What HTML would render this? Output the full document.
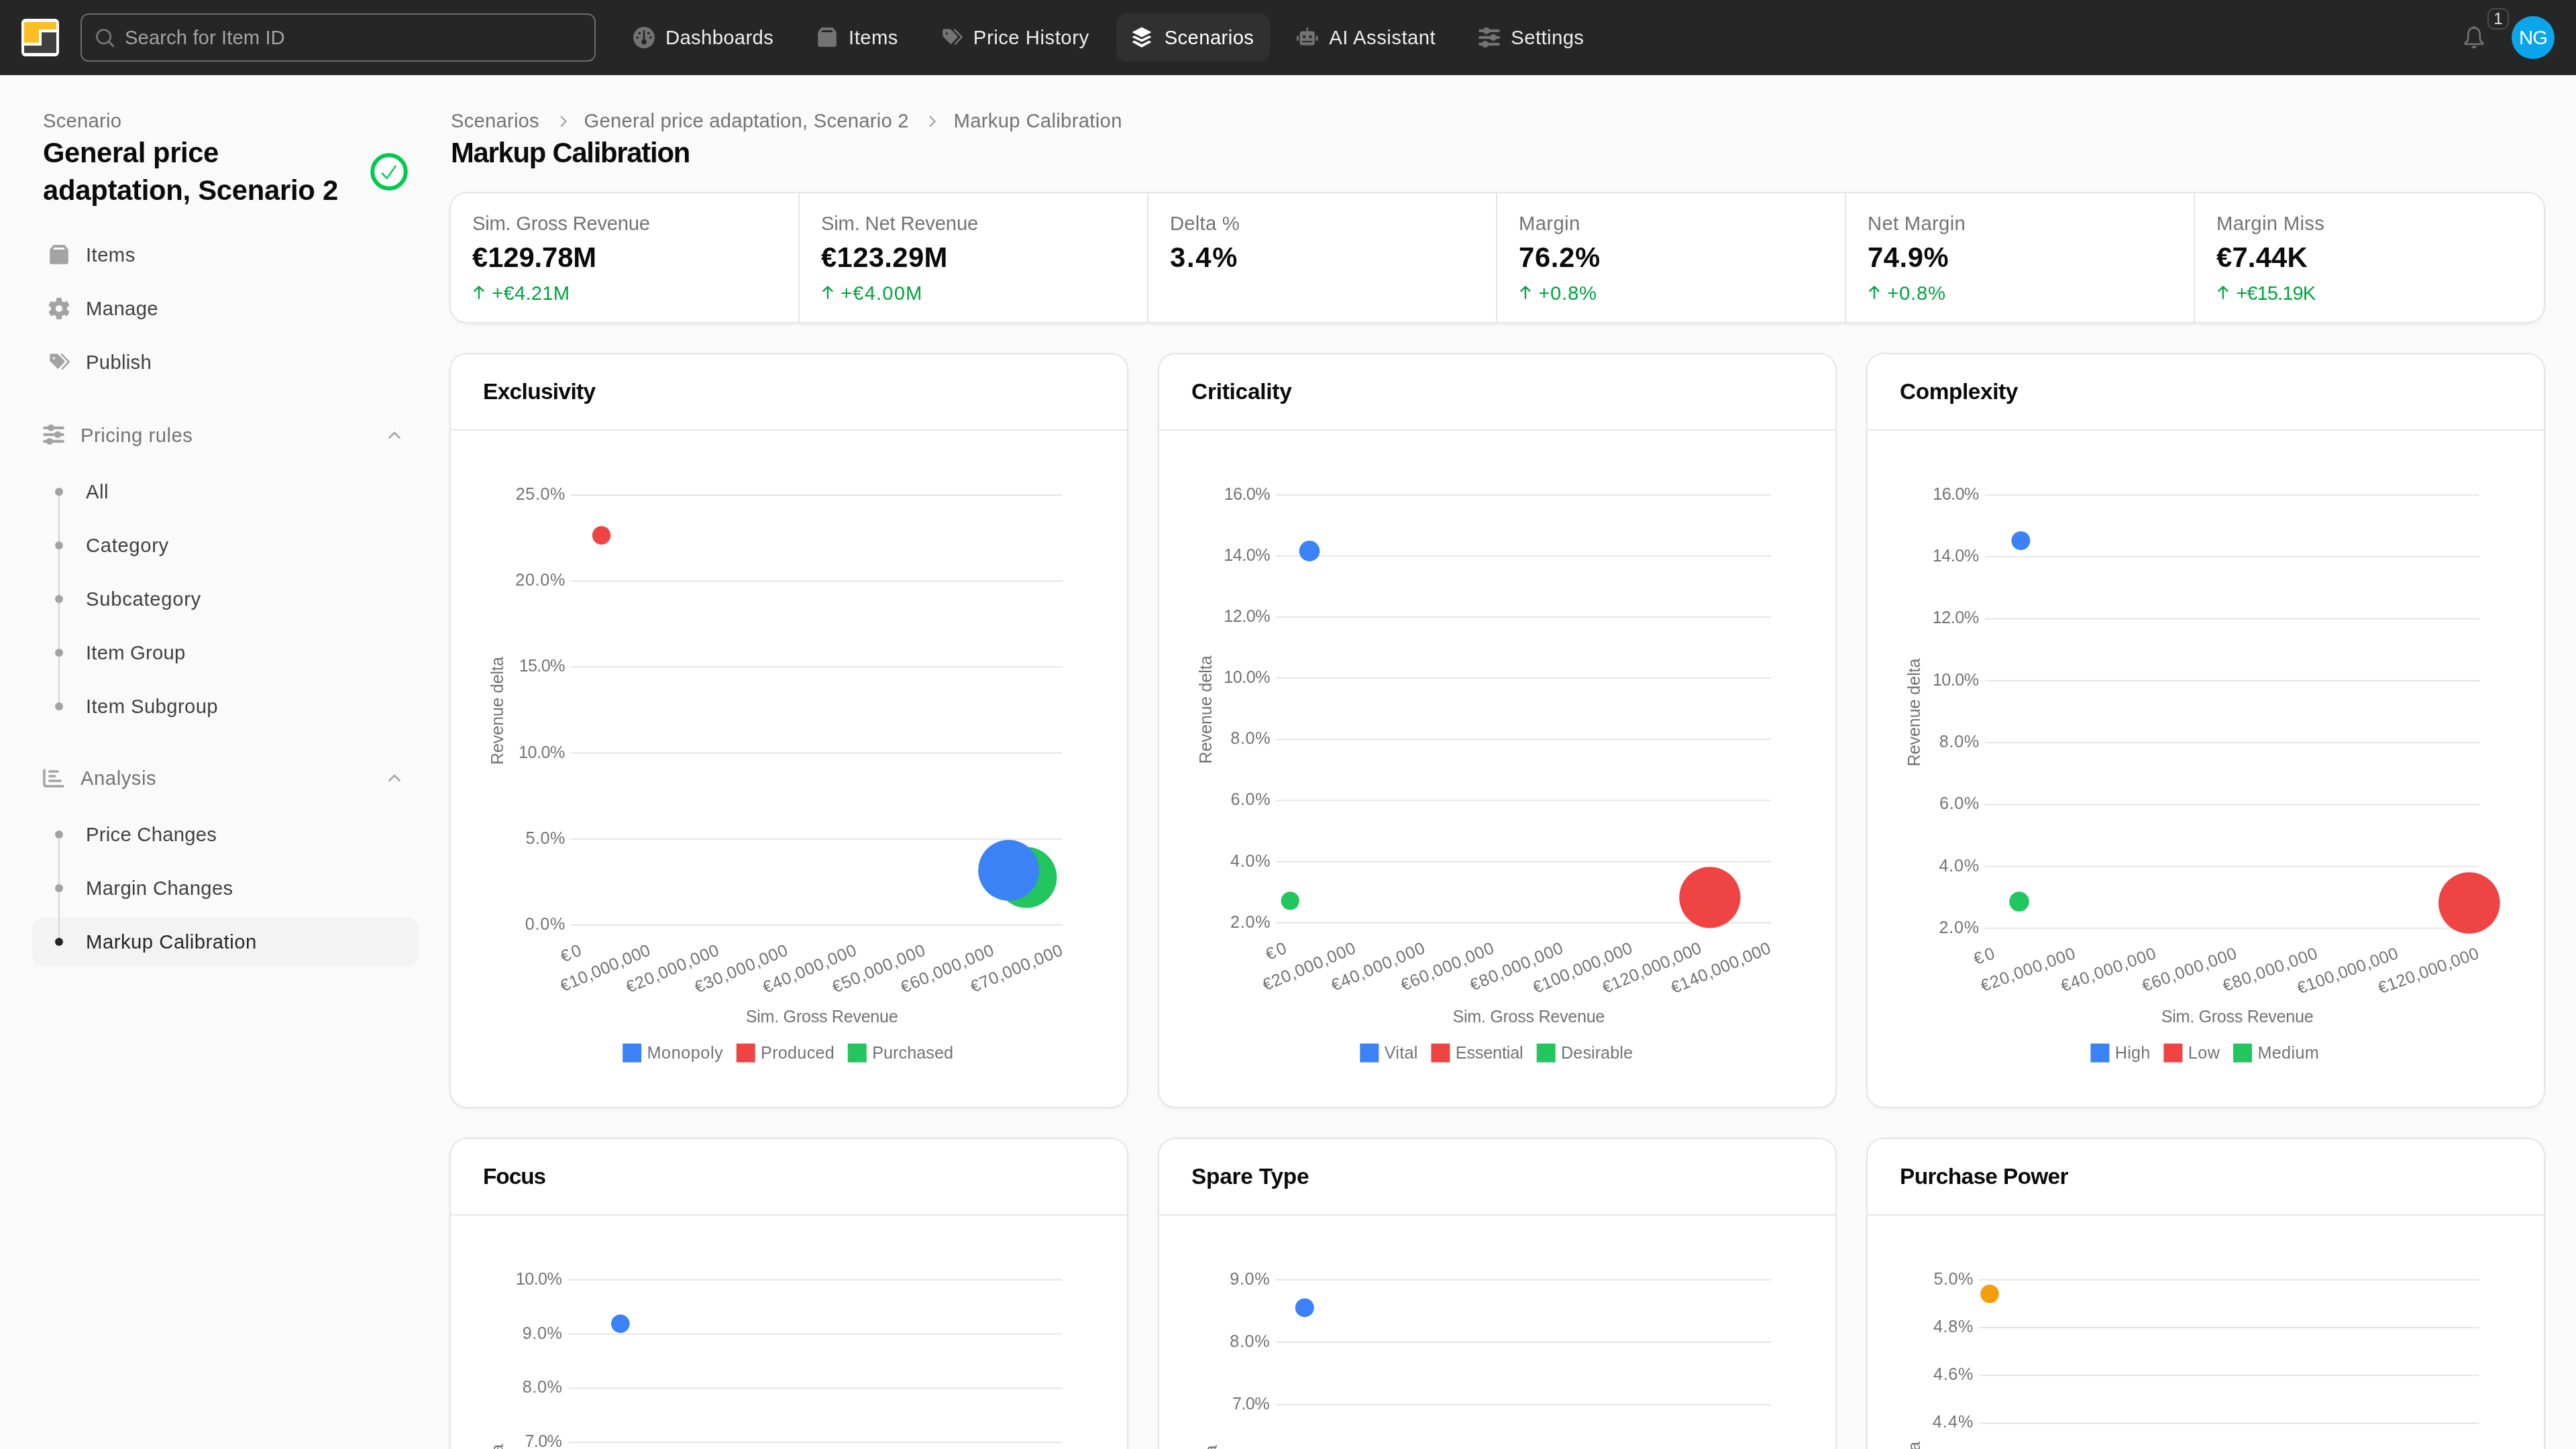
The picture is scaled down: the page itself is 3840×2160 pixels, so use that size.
<!DOCTYPE html><html lang="en"><head><meta charset="utf-8"><title>Markup Calibration</title><style>html,body{margin:0;padding:0}
@media (min-width: 2500px) { html { zoom: 2; } }
body{will-change:transform;width:1920px;height:1080px;overflow:hidden;background:#fafafa;font-family:'Liberation Sans', Arial, sans-serif;color:#0a0a0a;position:relative;-webkit-font-smoothing:antialiased}
.abs{position:absolute}
header.top{position:absolute;left:0;top:0;width:1920px;height:56px;background:#262626}
.nav{position:absolute;top:10px;height:36px;display:flex;align-items:center;gap:8px;padding:0 12px;box-sizing:border-box;border-radius:8px;color:#ededed;font-size:14px;white-space:nowrap}
.nav svg{flex:none;display:block}
.nav.active{background:#303030;color:#ffffff}
.row{position:absolute;left:24px;width:288px;height:36px;box-sizing:border-box;padding-left:12px;display:flex;align-items:center;gap:12px;font-size:14px;color:#404040;border-radius:8px;white-space:nowrap}
.row svg{display:block;flex:none}
.sub{position:absolute;left:64px;font-size:14px;line-height:20px;color:#404040;white-space:nowrap}
.dot{position:absolute;left:41px;width:6px;height:6px;border-radius:3px;background:#a3a3a3}
.card{position:absolute;background:#fff;border-radius:12px;box-sizing:border-box;box-shadow:0 0 0 1px #e5e5e5,0 1px 3px rgba(0,0,0,0.08),0 1px 2px -1px rgba(0,0,0,0.08)}
.kcell{position:absolute;top:0;height:96px;width:260px;box-sizing:border-box;padding:12px 16px}
.klabel{font-size:14px;line-height:20px;color:#737373;white-space:nowrap}
.kval{font-size:20px;line-height:28px;font-weight:700;color:#0a0a0a;white-space:nowrap}
.kdelta{font-size:14px;line-height:20px;color:#00a63e;white-space:nowrap;margin-top:3.5px;position:relative;height:20px}
.kdelta svg{position:absolute;left:0;top:0}
.kdelta span{position:absolute;left:14.6px;top:0.4px}
.klabel,.kval{position:relative}
.klabel{top:0.45px} .kval{top:1.5px}
.chead{position:absolute;left:0;top:0;right:0;height:56px;border-bottom:1px solid #e5e5e5;box-sizing:content-box}
.ctitle{position:absolute;left:24px;top:16px;font-size:16px;line-height:24px;font-weight:700;color:#0a0a0a;white-space:nowrap}
.csvg{position:absolute;left:0;top:0;overflow:visible}
svg text{font-family:'Liberation Sans', Arial, sans-serif}
</style></head><body><header class="top"><svg class="abs" style="left:16px;top:14px" width="28" height="28" viewBox="0 0 28 28"><rect x="0" y="0" width="28" height="28" rx="3.2" fill="#ffffff"/><path d="M2 2.4 H26 V7.9 H13 V17.85 H2 Z" fill="#fbbf24"/><path d="M15 10.15 H26 V25.45 H2 V19.95 H15 Z" fill="#404040"/></svg><div class="abs" style="left:60px;top:10px;width:384px;height:36px;box-sizing:border-box;border:1px solid #6b6b6b;border-radius:6px"></div><div class="abs" style="left:70px;top:20px"><svg width="16" height="16" viewBox="0 0 16 16"><circle cx="7.3" cy="7.3" r="5.1" fill="none" stroke="#737373" stroke-width="1.4"/><path d="M11 11 L14.4 14.4" stroke="#737373" stroke-width="1.5" stroke-linecap="round"/></svg></div><div class="abs" style="left:93px;top:18px;font-size:14px;line-height:20px;color:#a3a3a3;white-space:nowrap"><span style="font-size:14.63px;letter-spacing:0.041px;">Search for Item ID</span></div><nav><div class="nav" style="left:460.00px;width:128.56px"><svg width="16" height="16" viewBox="0 0 16 16"><circle cx="8" cy="8" r="8" fill="#737373"/><path d="M8 3.2V11" stroke="#262626" stroke-width="1.3" stroke-linecap="round"/><circle cx="8" cy="11.2" r="1.9" fill="#262626"/><circle cx="4.7" cy="4.7" r="0.95" fill="#262626"/><circle cx="11.4" cy="4.7" r="0.95" fill="#262626"/><circle cx="3.1" cy="7.9" r="0.95" fill="#262626"/><circle cx="12.9" cy="7.9" r="0.95" fill="#262626"/></svg><span style="font-size:14.63px;letter-spacing:0.170px;">Dashboards</span></div><div class="nav" style="left:596.56px;width:84.86px"><svg width="16" height="16" viewBox="0 0 16 16"><path d="M4.1 0.55 H11.9 Q12.4 0.55 12.7 1.0 L14.6 3.6 Q14.9 4.0 14.9 4.6 V13.4 Q14.9 14.9 13.4 14.9 H2.6 Q1.1 14.9 1.1 13.4 V4.6 Q1.1 4.0 1.4 3.6 L3.3 1.0 Q3.6 0.55 4.1 0.55 Z" fill="#737373"/><path d="M4.5 2.46 H11.4 L12.5 4.03 H3.5 Z" fill="#262626"/></svg><span style="font-size:14.63px;letter-spacing:0.219px;">Items</span></div><div class="nav" style="left:689.42px;width:134.41px"><svg width="16" height="16" viewBox="0 0 16 16"><path d="M1.1 2.7 Q1.1 1.6 2.2 1.6 H6.3 Q6.8 1.6 7.2 2 L12 6.8 Q12.6 7.4 12 8 L7.8 12.5 Q7.2 13.1 6.6 12.5 L1.6 7.5 Q1.1 7 1.1 6.4 Z" fill="#737373"/><circle cx="4.2" cy="5" r="0.85" fill="#262626"/><path d="M10 2.2 L15.3 7.6 L10.5 12.8" fill="none" stroke="#737373" stroke-width="1.25" stroke-linecap="round" stroke-linejoin="round"/></svg><span style="font-size:14.63px;letter-spacing:0.270px;">Price History</span></div><div class="nav active" style="left:831.83px;width:114.84px"><svg width="16" height="16" viewBox="0 0 16 16"><path d="M7 0.3 L13.8 3.7 Q14.2 4 13.8 4.3 L7 7.7 L0.2 4.3 Q-0.2 4 0.2 3.7 Z" fill="#ffffff"/><path d="M1.6 6.6 L7 9.3 L12.4 6.6 L13.8 7.3 Q14.2 7.6 13.8 7.9 L7 11.3 L0.2 7.9 Q-0.2 7.6 0.2 7.3 Z" fill="#ffffff"/><path d="M1.6 10.3 L7 13 L12.4 10.3 L13.8 11 Q14.2 11.3 13.8 11.6 L7 15.4 L0.2 11.6 Q-0.2 11.3 0.2 11 Z" fill="#ffffff"/></svg><span style="font-size:14.63px;letter-spacing:0.200px;">Scenarios</span></div><div class="nav" style="left:954.67px;width:127.47px"><svg width="16" height="16" viewBox="0 0 16 16"><rect x="2.3" y="3.2" width="11.1" height="10.6" rx="2" fill="#737373"/><rect x="-0.1" y="6.6" width="1.6" height="3.8" rx="0.6" fill="#737373"/><rect x="14.2" y="6.6" width="1.6" height="3.8" rx="0.6" fill="#737373"/><path d="M7.85 1 V3.4" stroke="#737373" stroke-width="1.2" stroke-linecap="round"/><circle cx="5.6" cy="7.4" r="1.15" fill="#262626"/><circle cx="10.2" cy="7.4" r="1.15" fill="#262626"/><path d="M4.4 11 H6.3 M7.1 11 H8.7 M9.5 11 H11.3" stroke="#262626" stroke-width="0.9" stroke-linecap="round"/></svg><span style="font-size:14.63px;letter-spacing:0.254px;">AI Assistant</span></div><div class="nav" style="left:1090.14px;width:102.58px"><svg width="16" height="16" viewBox="0 0 16 16"><g stroke="#737373" stroke-width="2.1" stroke-linecap="round"><path d="M1.1 2.9H14.9M1.1 7.95H14.9M1.1 12.95H14.9"/></g><circle cx="6" cy="2.9" r="2.5" fill="#737373"/><circle cx="11" cy="7.95" r="2.5" fill="#737373"/><circle cx="5" cy="12.95" r="2.5" fill="#737373"/></svg><span style="font-size:14.63px;letter-spacing:0.215px;">Settings</span></div></nav><div class="abs" style="left:1836px;top:19.6px"><svg width="16" height="18" viewBox="0 0 16 18"><path d="M8 1.2 C4.9 1.2 3.6 3.7 3.6 6.4 V9.4 C3.6 10.6 2.6 11.7 1.6 12.4 C1.1 12.8 1.3 13.4 1.9 13.4 H14.1 C14.7 13.4 14.9 12.8 14.4 12.4 C13.4 11.7 12.4 10.6 12.4 9.4 V6.4 C12.4 3.7 11.1 1.2 8 1.2 Z" fill="none" stroke="#737373" stroke-width="1.3" stroke-linejoin="round"/><path d="M8 0.2 V1.4" stroke="#737373" stroke-width="1.3" stroke-linecap="round"/><path d="M6.3 14.7 H9.7 Q9.5 16.6 8 16.6 Q6.5 16.6 6.3 14.7 Z" fill="#737373"/></svg></div><div class="abs" style="left:1854px;top:6px;width:16px;height:16px;box-sizing:border-box;border:1px solid #4d4d4d;border-radius:5px;font-size:12px;line-height:14px;text-align:center;color:#e5e5e5">1</div><div class="abs" style="left:1872px;top:12px;width:32px;height:32px;border-radius:16px;background:#0ba5ec;color:#fff;font-size:14px;line-height:32px;text-align:center"><span style="font-size:14.63px;letter-spacing:-0.438px;">NG</span></div></header><aside><div class="abs" style="left:32px;top:80px;font-size:14px;line-height:20px;color:#737373;white-space:nowrap"><span style="font-size:14.63px;letter-spacing:0.104px;">Scenario</span></div><div class="abs" style="left:32px;top:100px;font-size:20px;line-height:28px;font-weight:700;color:#0a0a0a;white-space:nowrap"><span style="font-size:20.9px;letter-spacing:-0.201px;">General price</span><br><span style="font-size:20.9px;letter-spacing:-0.137px;">adaptation, Scenario 2</span></div><svg class="abs" style="left:276px;top:114px" width="28" height="28" viewBox="0 0 28 28"><circle cx="14" cy="14" r="12.4" fill="#ffffff" stroke="#00c950" stroke-width="3"/><path d="M8.9 15.2 L12.3 18.9 L18.8 9.8" fill="none" stroke="#00c950" stroke-width="1.2" stroke-linecap="round" stroke-linejoin="round"/></svg><div class="row" style="top:172px"><svg width="16" height="16" viewBox="0 0 16 16"><path d="M4.1 0.55 H11.9 Q12.4 0.55 12.7 1.0 L14.6 3.6 Q14.9 4.0 14.9 4.6 V13.4 Q14.9 14.9 13.4 14.9 H2.6 Q1.1 14.9 1.1 13.4 V4.6 Q1.1 4.0 1.4 3.6 L3.3 1.0 Q3.6 0.55 4.1 0.55 Z" fill="#a3a3a3"/><path d="M4.5 2.46 H11.4 L12.5 4.03 H3.5 Z" fill="#fafafa"/></svg><span style="font-size:14.63px;letter-spacing:0.219px;">Items</span></div><div class="row" style="top:212px"><svg width="16" height="16" viewBox="0 0 16 16"><path d="M6.45 0.35 H9.55 L10.05 3.8 H5.95 Z" fill="#a3a3a3" stroke="#a3a3a3" stroke-width="0.7" stroke-linejoin="round" transform="rotate(0 8 8)"/><path d="M6.45 0.35 H9.55 L10.05 3.8 H5.95 Z" fill="#a3a3a3" stroke="#a3a3a3" stroke-width="0.7" stroke-linejoin="round" transform="rotate(60 8 8)"/><path d="M6.45 0.35 H9.55 L10.05 3.8 H5.95 Z" fill="#a3a3a3" stroke="#a3a3a3" stroke-width="0.7" stroke-linejoin="round" transform="rotate(120 8 8)"/><path d="M6.45 0.35 H9.55 L10.05 3.8 H5.95 Z" fill="#a3a3a3" stroke="#a3a3a3" stroke-width="0.7" stroke-linejoin="round" transform="rotate(180 8 8)"/><path d="M6.45 0.35 H9.55 L10.05 3.8 H5.95 Z" fill="#a3a3a3" stroke="#a3a3a3" stroke-width="0.7" stroke-linejoin="round" transform="rotate(240 8 8)"/><path d="M6.45 0.35 H9.55 L10.05 3.8 H5.95 Z" fill="#a3a3a3" stroke="#a3a3a3" stroke-width="0.7" stroke-linejoin="round" transform="rotate(300 8 8)"/><circle cx="8" cy="8" r="6.0" fill="#a3a3a3"/><circle cx="8" cy="8" r="2.55" fill="#fafafa"/></svg><span style="font-size:14.63px;letter-spacing:0.190px;">Manage</span></div><div class="row" style="top:252px"><svg width="16" height="16" viewBox="0 0 16 16"><path d="M1.1 2.7 Q1.1 1.6 2.2 1.6 H6.3 Q6.8 1.6 7.2 2 L12 6.8 Q12.6 7.4 12 8 L7.8 12.5 Q7.2 13.1 6.6 12.5 L1.6 7.5 Q1.1 7 1.1 6.4 Z" fill="#a3a3a3"/><circle cx="4.2" cy="5" r="0.85" fill="#fafafa"/><path d="M10 2.2 L15.3 7.6 L10.5 12.8" fill="none" stroke="#a3a3a3" stroke-width="1.25" stroke-linecap="round" stroke-linejoin="round"/></svg><span style="font-size:14.63px;letter-spacing:0.158px;">Publish</span></div><div class="abs" style="left:32px;top:316.0px"><svg width="16" height="16" viewBox="0 0 16 16"><g stroke="#a3a3a3" stroke-width="2.1" stroke-linecap="round"><path d="M1.1 2.9H14.9M1.1 7.95H14.9M1.1 12.95H14.9"/></g><circle cx="6" cy="2.9" r="2.5" fill="#a3a3a3"/><circle cx="11" cy="7.95" r="2.5" fill="#a3a3a3"/><circle cx="5" cy="12.95" r="2.5" fill="#a3a3a3"/></svg></div><div class="abs" style="left:60px;top:314.4px;font-size:14px;line-height:20px;color:#737373;white-space:nowrap"><span style="font-size:14.63px;letter-spacing:0.246px;">Pricing rules</span></div><div class="abs" style="left:286px;top:316.4px"><svg width="16" height="16" viewBox="0 0 16 16"><path d="M4.2 9.8 L8 6 L11.8 9.8" fill="none" stroke="#a3a3a3" stroke-width="1.3" stroke-linecap="round" stroke-linejoin="round"/></svg></div><div class="abs" style="left:43.5px;top:366px;width:1px;height:160px;background:#d4d4d4"></div><div class="dot" style="top:363.3px"></div><div class="sub" style="top:356.3px"><span style="font-size:14.63px;letter-spacing:0.240px;">All</span></div><div class="dot" style="top:403.3px"></div><div class="sub" style="top:396.3px"><span style="font-size:14.63px;letter-spacing:0.318px;">Category</span></div><div class="dot" style="top:443.3px"></div><div class="sub" style="top:436.3px"><span style="font-size:14.63px;letter-spacing:0.349px;">Subcategory</span></div><div class="dot" style="top:483.3px"></div><div class="sub" style="top:476.3px"><span style="font-size:14.63px;letter-spacing:0.103px;">Item Group</span></div><div class="dot" style="top:523.3px"></div><div class="sub" style="top:516.3px"><span style="font-size:14.63px;letter-spacing:0.198px;">Item Subgroup</span></div><div class="abs" style="left:32px;top:572.0px"><svg width="16" height="16" viewBox="0 0 16 16"><g stroke="#a3a3a3" stroke-linecap="round" fill="none"><path d="M0.97 2.0 V12.4 Q0.97 14 2.6 14 H15.0" stroke-width="1.75" stroke-linejoin="round"/><path d="M4.9 2.97 H11.0 M4.9 6.49 H8.9 M4.9 10.0 H13.1" stroke-width="1.8"/></g></svg></div><div class="abs" style="left:60px;top:570px;font-size:14px;line-height:20px;color:#737373;white-space:nowrap"><span style="font-size:14.63px;letter-spacing:0.266px;">Analysis</span></div><div class="abs" style="left:286px;top:572px"><svg width="16" height="16" viewBox="0 0 16 16"><path d="M4.2 9.8 L8 6 L11.8 9.8" fill="none" stroke="#a3a3a3" stroke-width="1.3" stroke-linecap="round" stroke-linejoin="round"/></svg></div><div class="abs" style="left:24px;top:684px;width:288px;height:36px;border-radius:8px;background:#f3f3f3"></div><div class="abs" style="left:43.5px;top:622px;width:1px;height:80px;background:#d4d4d4"></div><div class="dot" style="top:619.0px;"></div><div class="sub" style="top:612.0px;"><span style="font-size:14.63px;letter-spacing:0.131px;">Price Changes</span></div><div class="dot" style="top:659.0px;"></div><div class="sub" style="top:652.0px;"><span style="font-size:14.63px;letter-spacing:0.173px;">Margin Changes</span></div><div class="dot" style="top:699.0px;background:#262626"></div><div class="sub" style="top:692.0px;color:#262626"><span style="font-size:14.63px;letter-spacing:0.259px;">Markup Calibration</span></div></aside><main><div class="abs" style="left:336.00px;top:80px;font-size:14px;line-height:20px;color:#737373;white-space:nowrap"><span style="font-size:14.63px;letter-spacing:0.101px;">Scenarios</span></div><div class="abs" style="left:412.75px;top:83px"><svg width="14" height="14" viewBox="0 0 14 14"><path d="M5.3 3.5 L8.8 7 L5.3 10.5" fill="none" stroke="#a3a3a3" stroke-width="1.17" stroke-linecap="round" stroke-linejoin="round"/></svg></div><div class="abs" style="left:435.30px;top:80px;font-size:14px;line-height:20px;color:#737373;white-space:nowrap"><span style="font-size:14.63px;letter-spacing:0.107px;">General price adaptation, Scenario 2</span></div><div class="abs" style="left:688.17px;top:83px"><svg width="14" height="14" viewBox="0 0 14 14"><path d="M5.3 3.5 L8.8 7 L5.3 10.5" fill="none" stroke="#a3a3a3" stroke-width="1.17" stroke-linecap="round" stroke-linejoin="round"/></svg></div><div class="abs" style="left:710.72px;top:80px;font-size:14px;line-height:20px;color:#737373;white-space:nowrap"><span style="font-size:14.63px;letter-spacing:0.163px;">Markup Calibration</span></div><h1 class="abs" style="margin:0;left:336px;top:100px;font-size:20px;line-height:28px;font-weight:700;white-space:nowrap"><span style="font-size:20.9px;letter-spacing:-0.628px;">Markup Calibration</span></h1><section class="card" style="left:336px;top:144px;width:1560px;height:96px"><div class="kcell" style="left:0px;padding-left:16px"><div class="klabel"><span style="font-size:14.63px;letter-spacing:-0.142px;">Sim. Gross Revenue</span></div><div class="kval"><span style="font-size:20.9px;letter-spacing:-0.055px;">€129.78M</span></div><div class="kdelta"><svg width="10" height="20" viewBox="0 0 10 20"><path d="M4.96 6 V14.4 M1.65 8.94 L4.96 5.7 L8.23 8.94" fill="none" stroke="#00a63e" stroke-width="1.16" stroke-linecap="round" stroke-linejoin="round"/></svg><span style="font-size:14.63px;letter-spacing:0.107px;">+€4.21M</span></div></div><div class="kcell" style="left:259px;border-left:1px solid #e5e5e5;padding-left:16px"><div class="klabel"><span style="font-size:14.63px;letter-spacing:-0.105px;">Sim. Net Revenue</span></div><div class="kval"><span style="font-size:20.9px;letter-spacing:0.174px;">€123.29M</span></div><div class="kdelta"><svg width="10" height="20" viewBox="0 0 10 20"><path d="M4.96 6 V14.4 M1.65 8.94 L4.96 5.7 L8.23 8.94" fill="none" stroke="#00a63e" stroke-width="1.16" stroke-linecap="round" stroke-linejoin="round"/></svg><span style="font-size:14.63px;letter-spacing:0.547px;">+€4.00M</span></div></div><div class="kcell" style="left:519px;border-left:1px solid #e5e5e5;padding-left:16px"><div class="klabel"><span style="font-size:14.63px;letter-spacing:0.121px;">Delta %</span></div><div class="kval"><span style="font-size:20.9px;letter-spacing:0.848px;">3.4%</span></div></div><div class="kcell" style="left:779px;border-left:1px solid #e5e5e5;padding-left:16px"><div class="klabel"><span style="font-size:14.63px;letter-spacing:0.180px;">Margin</span></div><div class="kval"><span style="font-size:20.9px;letter-spacing:0.316px;">76.2%</span></div><div class="kdelta"><svg width="10" height="20" viewBox="0 0 10 20"><path d="M4.96 6 V14.4 M1.65 8.94 L4.96 5.7 L8.23 8.94" fill="none" stroke="#00a63e" stroke-width="1.16" stroke-linecap="round" stroke-linejoin="round"/></svg><span style="font-size:14.63px;letter-spacing:0.397px;">+0.8%</span></div></div><div class="kcell" style="left:1039px;border-left:1px solid #e5e5e5;padding-left:16px"><div class="klabel"><span style="font-size:14.63px;letter-spacing:0.150px;">Net Margin</span></div><div class="kval"><span style="font-size:20.9px;letter-spacing:0.263px;">74.9%</span></div><div class="kdelta"><svg width="10" height="20" viewBox="0 0 10 20"><path d="M4.96 6 V14.4 M1.65 8.94 L4.96 5.7 L8.23 8.94" fill="none" stroke="#00a63e" stroke-width="1.16" stroke-linecap="round" stroke-linejoin="round"/></svg><span style="font-size:14.63px;letter-spacing:0.397px;">+0.8%</span></div></div><div class="kcell" style="left:1299px;border-left:1px solid #e5e5e5;padding-left:16px"><div class="klabel"><span style="font-size:14.63px;letter-spacing:0.158px;">Margin Miss</span></div><div class="kval"><span style="font-size:20.9px;letter-spacing:0.094px;">€7.44K</span></div><div class="kdelta"><svg width="10" height="20" viewBox="0 0 10 20"><path d="M4.96 6 V14.4 M1.65 8.94 L4.96 5.7 L8.23 8.94" fill="none" stroke="#00a63e" stroke-width="1.16" stroke-linecap="round" stroke-linejoin="round"/></svg><span style="font-size:14.63px;letter-spacing:-0.500px;">+€15.19K</span></div></div></section><section class="card" style="left:336px;top:264px;width:504px;height:561px"><div class="chead"><div class="ctitle"><span style="font-size:16.72px;letter-spacing:-0.324px;">Exclusivity</span></div></div><svg class="csvg" width="504" height="561" viewBox="0 0 504 561"><line x1="89.50" y1="105.00" x2="456.00" y2="105.00" stroke="#e5e5e5" stroke-width="1"/><text x="85.20" y="108.54" font-size="12.6" text-anchor="end" fill="#737373" textLength="36.80" lengthAdjust="spacing">25.0%</text><line x1="89.50" y1="169.08" x2="456.00" y2="169.08" stroke="#e5e5e5" stroke-width="1"/><text x="85.20" y="172.62" font-size="12.6" text-anchor="end" fill="#737373" textLength="37.09" lengthAdjust="spacing">20.0%</text><line x1="89.50" y1="233.16" x2="456.00" y2="233.16" stroke="#e5e5e5" stroke-width="1"/><text x="85.20" y="236.70" font-size="12.6" text-anchor="end" fill="#737373" textLength="34.36" lengthAdjust="spacing">15.0%</text><line x1="89.50" y1="297.24" x2="456.00" y2="297.24" stroke="#e5e5e5" stroke-width="1"/><text x="85.20" y="300.78" font-size="12.6" text-anchor="end" fill="#737373" textLength="34.66" lengthAdjust="spacing">10.0%</text><line x1="89.50" y1="361.32" x2="456.00" y2="361.32" stroke="#e5e5e5" stroke-width="1"/><text x="85.20" y="364.86" font-size="12.6" text-anchor="end" fill="#737373" textLength="29.48" lengthAdjust="spacing">5.0%</text><line x1="89.50" y1="425.40" x2="456.00" y2="425.40" stroke="#e5e5e5" stroke-width="1"/><text x="85.20" y="428.94" font-size="12.6" text-anchor="end" fill="#737373" textLength="29.78" lengthAdjust="spacing">0.0%</text><text x="0.00" y="0.00" font-size="12.6" text-anchor="middle" fill="#737373" textLength="80.53" lengthAdjust="spacing" transform="translate(39.15,265.80) rotate(-90)">Revenue delta</text><text x="0.00" y="4.30" font-size="12.6" text-anchor="end" fill="#737373" textLength="15.58" lengthAdjust="spacing" transform="translate(96.70,443.40) rotate(-23)">€0</text><text x="0.00" y="4.30" font-size="12.6" text-anchor="end" fill="#737373" textLength="71.58" lengthAdjust="spacing" transform="translate(147.93,443.40) rotate(-23)">€10,000,000</text><text x="0.00" y="4.30" font-size="12.6" text-anchor="end" fill="#737373" textLength="74.02" lengthAdjust="spacing" transform="translate(199.16,443.40) rotate(-23)">€20,000,000</text><text x="0.00" y="4.30" font-size="12.6" text-anchor="end" fill="#737373" textLength="74.11" lengthAdjust="spacing" transform="translate(250.39,443.40) rotate(-23)">€30,000,000</text><text x="0.00" y="4.30" font-size="12.6" text-anchor="end" fill="#737373" textLength="74.44" lengthAdjust="spacing" transform="translate(301.61,443.40) rotate(-23)">€40,000,000</text><text x="0.00" y="4.30" font-size="12.6" text-anchor="end" fill="#737373" textLength="73.98" lengthAdjust="spacing" transform="translate(352.84,443.40) rotate(-23)">€50,000,000</text><text x="0.00" y="4.30" font-size="12.6" text-anchor="end" fill="#737373" textLength="74.14" lengthAdjust="spacing" transform="translate(404.07,443.40) rotate(-23)">€60,000,000</text><text x="0.00" y="4.30" font-size="12.6" text-anchor="end" fill="#737373" textLength="73.30" lengthAdjust="spacing" transform="translate(455.30,443.40) rotate(-23)">€70,000,000</text><text x="276.65" y="497.90" font-size="12.6" text-anchor="middle" fill="#737373" textLength="113.47" lengthAdjust="spacing">Sim. Gross Revenue</text><rect x="128.07" y="513.80" width="14" height="14" fill="#3b82f6"/><text x="146.27" y="525.10" font-size="12.6" text-anchor="start" fill="#737373" textLength="56.58" lengthAdjust="spacing">Monopoly</text><rect x="212.85" y="513.80" width="14" height="14" fill="#ef4444"/><text x="231.05" y="525.10" font-size="12.6" text-anchor="start" fill="#737373" textLength="54.83" lengthAdjust="spacing">Produced</text><rect x="295.88" y="513.80" width="14" height="14" fill="#22c55e"/><text x="314.08" y="525.10" font-size="12.6" text-anchor="start" fill="#737373" textLength="60.45" lengthAdjust="spacing">Purchased</text><circle cx="429.00" cy="390.00" r="22.70" fill="#22c55e"/><circle cx="112.30" cy="135.00" r="6.85" fill="#ef4444"/><circle cx="415.80" cy="384.70" r="22.70" fill="#3b82f6"/></svg></section><section class="card" style="left:864px;top:264px;width:504px;height:561px"><div class="chead"><div class="ctitle"><span style="font-size:16.72px;letter-spacing:-0.124px;">Criticality</span></div></div><svg class="csvg" width="504" height="561" viewBox="0 0 504 561"><line x1="87.10" y1="104.85" x2="456.00" y2="104.85" stroke="#e5e5e5" stroke-width="1"/><text x="82.80" y="108.39" font-size="12.6" text-anchor="end" fill="#737373" textLength="34.44" lengthAdjust="spacing">16.0%</text><line x1="87.10" y1="150.41" x2="456.00" y2="150.41" stroke="#e5e5e5" stroke-width="1"/><text x="82.80" y="153.95" font-size="12.6" text-anchor="end" fill="#737373" textLength="34.73" lengthAdjust="spacing">14.0%</text><line x1="87.10" y1="195.98" x2="456.00" y2="195.98" stroke="#e5e5e5" stroke-width="1"/><text x="82.80" y="199.52" font-size="12.6" text-anchor="end" fill="#737373" textLength="34.72" lengthAdjust="spacing">12.0%</text><line x1="87.10" y1="241.54" x2="456.00" y2="241.54" stroke="#e5e5e5" stroke-width="1"/><text x="82.80" y="245.08" font-size="12.6" text-anchor="end" fill="#737373" textLength="34.66" lengthAdjust="spacing">10.0%</text><line x1="87.10" y1="287.11" x2="456.00" y2="287.11" stroke="#e5e5e5" stroke-width="1"/><text x="82.80" y="290.65" font-size="12.6" text-anchor="end" fill="#737373" textLength="29.67" lengthAdjust="spacing">8.0%</text><line x1="87.10" y1="332.67" x2="456.00" y2="332.67" stroke="#e5e5e5" stroke-width="1"/><text x="82.80" y="336.21" font-size="12.6" text-anchor="end" fill="#737373" textLength="29.55" lengthAdjust="spacing">6.0%</text><line x1="87.10" y1="378.24" x2="456.00" y2="378.24" stroke="#e5e5e5" stroke-width="1"/><text x="82.80" y="381.78" font-size="12.6" text-anchor="end" fill="#737373" textLength="29.86" lengthAdjust="spacing">4.0%</text><line x1="87.10" y1="423.80" x2="456.00" y2="423.80" stroke="#e5e5e5" stroke-width="1"/><text x="82.80" y="427.34" font-size="12.6" text-anchor="end" fill="#737373" textLength="29.83" lengthAdjust="spacing">2.0%</text><text x="0.00" y="0.00" font-size="12.6" text-anchor="middle" fill="#737373" textLength="80.53" lengthAdjust="spacing" transform="translate(39.15,264.93) rotate(-90)">Revenue delta</text><text x="0.00" y="4.30" font-size="12.6" text-anchor="end" fill="#737373" textLength="15.58" lengthAdjust="spacing" transform="translate(94.10,441.80) rotate(-23)">€0</text><text x="0.00" y="4.30" font-size="12.6" text-anchor="end" fill="#737373" textLength="74.02" lengthAdjust="spacing" transform="translate(145.66,441.80) rotate(-23)">€20,000,000</text><text x="0.00" y="4.30" font-size="12.6" text-anchor="end" fill="#737373" textLength="74.44" lengthAdjust="spacing" transform="translate(197.21,441.80) rotate(-23)">€40,000,000</text><text x="0.00" y="4.30" font-size="12.6" text-anchor="end" fill="#737373" textLength="74.14" lengthAdjust="spacing" transform="translate(248.77,441.80) rotate(-23)">€60,000,000</text><text x="0.00" y="4.30" font-size="12.6" text-anchor="end" fill="#737373" textLength="74.11" lengthAdjust="spacing" transform="translate(300.33,441.80) rotate(-23)">€80,000,000</text><text x="0.00" y="4.30" font-size="12.6" text-anchor="end" fill="#737373" textLength="79.14" lengthAdjust="spacing" transform="translate(351.89,441.80) rotate(-23)">€100,000,000</text><text x="0.00" y="4.30" font-size="12.6" text-anchor="end" fill="#737373" textLength="78.89" lengthAdjust="spacing" transform="translate(403.44,441.80) rotate(-23)">€120,000,000</text><text x="0.00" y="4.30" font-size="12.6" text-anchor="end" fill="#737373" textLength="79.33" lengthAdjust="spacing" transform="translate(455.00,441.80) rotate(-23)">€140,000,000</text><text x="275.45" y="497.90" font-size="12.6" text-anchor="middle" fill="#737373" textLength="113.47" lengthAdjust="spacing">Sim. Gross Revenue</text><rect x="149.66" y="513.80" width="14" height="14" fill="#3b82f6"/><text x="167.86" y="525.10" font-size="12.6" text-anchor="start" fill="#737373" textLength="24.83" lengthAdjust="spacing">Vital</text><rect x="202.68" y="513.80" width="14" height="14" fill="#ef4444"/><text x="220.88" y="525.10" font-size="12.6" text-anchor="start" fill="#737373" textLength="50.45" lengthAdjust="spacing">Essential</text><rect x="281.34" y="513.80" width="14" height="14" fill="#22c55e"/><text x="299.54" y="525.10" font-size="12.6" text-anchor="start" fill="#737373" textLength="53.41" lengthAdjust="spacing">Desirable</text><circle cx="97.60" cy="407.40" r="6.80" fill="#22c55e"/><circle cx="410.40" cy="404.90" r="22.80" fill="#ef4444"/><circle cx="112.00" cy="146.70" r="7.66" fill="#3b82f6"/></svg></section><section class="card" style="left:1392px;top:264px;width:504px;height:561px"><div class="chead"><div class="ctitle"><span style="font-size:16.72px;letter-spacing:-0.211px;">Complexity</span></div></div><svg class="csvg" width="504" height="561" viewBox="0 0 504 561"><line x1="87.40" y1="104.90" x2="456.00" y2="104.90" stroke="#e5e5e5" stroke-width="1"/><text x="83.10" y="108.44" font-size="12.6" text-anchor="end" fill="#737373" textLength="34.44" lengthAdjust="spacing">16.0%</text><line x1="87.40" y1="151.04" x2="456.00" y2="151.04" stroke="#e5e5e5" stroke-width="1"/><text x="83.10" y="154.58" font-size="12.6" text-anchor="end" fill="#737373" textLength="34.73" lengthAdjust="spacing">14.0%</text><line x1="87.40" y1="197.19" x2="456.00" y2="197.19" stroke="#e5e5e5" stroke-width="1"/><text x="83.10" y="200.73" font-size="12.6" text-anchor="end" fill="#737373" textLength="34.72" lengthAdjust="spacing">12.0%</text><line x1="87.40" y1="243.33" x2="456.00" y2="243.33" stroke="#e5e5e5" stroke-width="1"/><text x="83.10" y="246.87" font-size="12.6" text-anchor="end" fill="#737373" textLength="34.66" lengthAdjust="spacing">10.0%</text><line x1="87.40" y1="289.47" x2="456.00" y2="289.47" stroke="#e5e5e5" stroke-width="1"/><text x="83.10" y="293.01" font-size="12.6" text-anchor="end" fill="#737373" textLength="29.67" lengthAdjust="spacing">8.0%</text><line x1="87.40" y1="335.61" x2="456.00" y2="335.61" stroke="#e5e5e5" stroke-width="1"/><text x="83.10" y="339.15" font-size="12.6" text-anchor="end" fill="#737373" textLength="29.55" lengthAdjust="spacing">6.0%</text><line x1="87.40" y1="381.76" x2="456.00" y2="381.76" stroke="#e5e5e5" stroke-width="1"/><text x="83.10" y="385.30" font-size="12.6" text-anchor="end" fill="#737373" textLength="29.86" lengthAdjust="spacing">4.0%</text><line x1="87.40" y1="427.90" x2="456.00" y2="427.90" stroke="#e5e5e5" stroke-width="1"/><text x="83.10" y="431.44" font-size="12.6" text-anchor="end" fill="#737373" textLength="29.83" lengthAdjust="spacing">2.0%</text><text x="0.00" y="0.00" font-size="12.6" text-anchor="middle" fill="#737373" textLength="80.53" lengthAdjust="spacing" transform="translate(39.15,267.00) rotate(-90)">Revenue delta</text><text x="0.00" y="4.30" font-size="12.6" text-anchor="end" fill="#737373" textLength="15.58" lengthAdjust="spacing" transform="translate(94.10,445.90) rotate(-20)">€0</text><text x="0.00" y="4.30" font-size="12.6" text-anchor="end" fill="#737373" textLength="74.02" lengthAdjust="spacing" transform="translate(154.25,445.90) rotate(-20)">€20,000,000</text><text x="0.00" y="4.30" font-size="12.6" text-anchor="end" fill="#737373" textLength="74.44" lengthAdjust="spacing" transform="translate(214.40,445.90) rotate(-20)">€40,000,000</text><text x="0.00" y="4.30" font-size="12.6" text-anchor="end" fill="#737373" textLength="74.14" lengthAdjust="spacing" transform="translate(274.55,445.90) rotate(-20)">€60,000,000</text><text x="0.00" y="4.30" font-size="12.6" text-anchor="end" fill="#737373" textLength="74.11" lengthAdjust="spacing" transform="translate(334.70,445.90) rotate(-20)">€80,000,000</text><text x="0.00" y="4.30" font-size="12.6" text-anchor="end" fill="#737373" textLength="79.14" lengthAdjust="spacing" transform="translate(394.85,445.90) rotate(-20)">€100,000,000</text><text x="0.00" y="4.30" font-size="12.6" text-anchor="end" fill="#737373" textLength="78.89" lengthAdjust="spacing" transform="translate(455.00,445.90) rotate(-20)">€120,000,000</text><text x="275.60" y="497.90" font-size="12.6" text-anchor="middle" fill="#737373" textLength="113.47" lengthAdjust="spacing">Sim. Gross Revenue</text><rect x="166.21" y="513.80" width="14" height="14" fill="#3b82f6"/><text x="184.41" y="525.10" font-size="12.6" text-anchor="start" fill="#737373" textLength="26.28" lengthAdjust="spacing">High</text><rect x="220.69" y="513.80" width="14" height="14" fill="#ef4444"/><text x="238.89" y="525.10" font-size="12.6" text-anchor="start" fill="#737373" textLength="23.59" lengthAdjust="spacing">Low</text><rect x="272.49" y="513.80" width="14" height="14" fill="#22c55e"/><text x="290.69" y="525.10" font-size="12.6" text-anchor="start" fill="#737373" textLength="45.70" lengthAdjust="spacing">Medium</text><circle cx="113.00" cy="408.00" r="7.40" fill="#22c55e"/><circle cx="448.40" cy="409.00" r="22.90" fill="#ef4444"/><circle cx="114.20" cy="139.00" r="7.00" fill="#3b82f6"/></svg></section><section class="card" style="left:336px;top:849px;width:504px;height:561px"><div class="chead"><div class="ctitle"><span style="font-size:16.72px;letter-spacing:-0.531px;">Focus</span></div></div><svg class="csvg" width="504" height="561" viewBox="0 0 504 561"><line x1="87.30" y1="104.90" x2="455.80" y2="104.90" stroke="#e5e5e5" stroke-width="1"/><text x="83.00" y="108.44" font-size="12.6" text-anchor="end" fill="#737373" textLength="34.66" lengthAdjust="spacing">10.0%</text><line x1="87.30" y1="145.30" x2="455.80" y2="145.30" stroke="#e5e5e5" stroke-width="1"/><text x="83.00" y="148.84" font-size="12.6" text-anchor="end" fill="#737373" textLength="29.66" lengthAdjust="spacing">9.0%</text><line x1="87.30" y1="185.70" x2="455.80" y2="185.70" stroke="#e5e5e5" stroke-width="1"/><text x="83.00" y="189.24" font-size="12.6" text-anchor="end" fill="#737373" textLength="29.67" lengthAdjust="spacing">8.0%</text><line x1="87.30" y1="226.10" x2="455.80" y2="226.10" stroke="#e5e5e5" stroke-width="1"/><text x="83.00" y="229.64" font-size="12.6" text-anchor="end" fill="#737373" textLength="27.80" lengthAdjust="spacing">7.0%</text><line x1="87.30" y1="266.50" x2="455.80" y2="266.50" stroke="#e5e5e5" stroke-width="1"/><text x="83.00" y="270.04" font-size="12.6" text-anchor="end" fill="#737373" textLength="29.55" lengthAdjust="spacing">6.0%</text><line x1="87.30" y1="306.90" x2="455.80" y2="306.90" stroke="#e5e5e5" stroke-width="1"/><text x="83.00" y="310.44" font-size="12.6" text-anchor="end" fill="#737373" textLength="29.48" lengthAdjust="spacing">5.0%</text><line x1="87.30" y1="347.30" x2="455.80" y2="347.30" stroke="#e5e5e5" stroke-width="1"/><text x="83.00" y="350.84" font-size="12.6" text-anchor="end" fill="#737373" textLength="29.86" lengthAdjust="spacing">4.0%</text><line x1="87.30" y1="387.70" x2="455.80" y2="387.70" stroke="#e5e5e5" stroke-width="1"/><text x="83.00" y="391.24" font-size="12.6" text-anchor="end" fill="#737373" textLength="29.66" lengthAdjust="spacing">3.0%</text><line x1="87.30" y1="428.10" x2="455.80" y2="428.10" stroke="#e5e5e5" stroke-width="1"/><text x="83.00" y="431.64" font-size="12.6" text-anchor="end" fill="#737373" textLength="29.83" lengthAdjust="spacing">2.0%</text><text x="0.00" y="0.00" font-size="12.6" text-anchor="middle" fill="#737373" textLength="80.53" lengthAdjust="spacing" transform="translate(39.15,267.60) rotate(-90)">Revenue delta</text><circle cx="126.40" cy="137.60" r="6.90" fill="#3b82f6"/></svg></section><section class="card" style="left:864px;top:849px;width:504px;height:561px"><div class="chead"><div class="ctitle"><span style="font-size:16.72px;letter-spacing:-0.116px;">Spare Type</span></div></div><svg class="csvg" width="504" height="561" viewBox="0 0 504 561"><line x1="86.60" y1="104.90" x2="455.90" y2="104.90" stroke="#e5e5e5" stroke-width="1"/><text x="82.30" y="108.44" font-size="12.6" text-anchor="end" fill="#737373" textLength="29.66" lengthAdjust="spacing">9.0%</text><line x1="86.60" y1="151.40" x2="455.90" y2="151.40" stroke="#e5e5e5" stroke-width="1"/><text x="82.30" y="154.94" font-size="12.6" text-anchor="end" fill="#737373" textLength="29.67" lengthAdjust="spacing">8.0%</text><line x1="86.60" y1="197.90" x2="455.90" y2="197.90" stroke="#e5e5e5" stroke-width="1"/><text x="82.30" y="201.44" font-size="12.6" text-anchor="end" fill="#737373" textLength="27.80" lengthAdjust="spacing">7.0%</text><line x1="86.60" y1="244.40" x2="455.90" y2="244.40" stroke="#e5e5e5" stroke-width="1"/><text x="82.30" y="247.94" font-size="12.6" text-anchor="end" fill="#737373" textLength="29.55" lengthAdjust="spacing">6.0%</text><line x1="86.60" y1="290.90" x2="455.90" y2="290.90" stroke="#e5e5e5" stroke-width="1"/><text x="82.30" y="294.44" font-size="12.6" text-anchor="end" fill="#737373" textLength="29.48" lengthAdjust="spacing">5.0%</text><line x1="86.60" y1="337.40" x2="455.90" y2="337.40" stroke="#e5e5e5" stroke-width="1"/><text x="82.30" y="340.94" font-size="12.6" text-anchor="end" fill="#737373" textLength="29.86" lengthAdjust="spacing">4.0%</text><line x1="86.60" y1="383.90" x2="455.90" y2="383.90" stroke="#e5e5e5" stroke-width="1"/><text x="82.30" y="387.44" font-size="12.6" text-anchor="end" fill="#737373" textLength="29.66" lengthAdjust="spacing">3.0%</text><line x1="86.60" y1="430.40" x2="455.90" y2="430.40" stroke="#e5e5e5" stroke-width="1"/><text x="82.30" y="433.94" font-size="12.6" text-anchor="end" fill="#737373" textLength="29.83" lengthAdjust="spacing">2.0%</text><text x="0.00" y="0.00" font-size="12.6" text-anchor="middle" fill="#737373" textLength="80.53" lengthAdjust="spacing" transform="translate(43.15,268.40) rotate(-90)">Revenue delta</text><circle cx="108.40" cy="125.70" r="7.00" fill="#3b82f6"/></svg></section><section class="card" style="left:1392px;top:849px;width:504px;height:561px"><div class="chead"><div class="ctitle"><span style="font-size:16.72px;letter-spacing:-0.327px;">Purchase Power</span></div></div><svg class="csvg" width="504" height="561" viewBox="0 0 504 561"><line x1="83.00" y1="104.90" x2="455.80" y2="104.90" stroke="#e5e5e5" stroke-width="1"/><text x="78.70" y="108.44" font-size="12.6" text-anchor="end" fill="#737373" textLength="29.48" lengthAdjust="spacing">5.0%</text><line x1="83.00" y1="140.50" x2="455.80" y2="140.50" stroke="#e5e5e5" stroke-width="1"/><text x="78.70" y="144.04" font-size="12.6" text-anchor="end" fill="#737373" textLength="29.75" lengthAdjust="spacing">4.8%</text><line x1="83.00" y1="176.10" x2="455.80" y2="176.10" stroke="#e5e5e5" stroke-width="1"/><text x="78.70" y="179.64" font-size="12.6" text-anchor="end" fill="#737373" textLength="29.73" lengthAdjust="spacing">4.6%</text><line x1="83.00" y1="211.70" x2="455.80" y2="211.70" stroke="#e5e5e5" stroke-width="1"/><text x="78.70" y="215.24" font-size="12.6" text-anchor="end" fill="#737373" textLength="30.34" lengthAdjust="spacing">4.4%</text><line x1="83.00" y1="247.30" x2="455.80" y2="247.30" stroke="#e5e5e5" stroke-width="1"/><text x="78.70" y="250.84" font-size="12.6" text-anchor="end" fill="#737373" textLength="29.91" lengthAdjust="spacing">4.2%</text><line x1="83.00" y1="282.90" x2="455.80" y2="282.90" stroke="#e5e5e5" stroke-width="1"/><text x="78.70" y="286.44" font-size="12.6" text-anchor="end" fill="#737373" textLength="29.86" lengthAdjust="spacing">4.0%</text><line x1="83.00" y1="318.50" x2="455.80" y2="318.50" stroke="#e5e5e5" stroke-width="1"/><text x="78.70" y="322.04" font-size="12.6" text-anchor="end" fill="#737373" textLength="29.55" lengthAdjust="spacing">3.8%</text><line x1="83.00" y1="354.10" x2="455.80" y2="354.10" stroke="#e5e5e5" stroke-width="1"/><text x="78.70" y="357.64" font-size="12.6" text-anchor="end" fill="#737373" textLength="29.53" lengthAdjust="spacing">3.6%</text><line x1="83.00" y1="389.70" x2="455.80" y2="389.70" stroke="#e5e5e5" stroke-width="1"/><text x="78.70" y="393.24" font-size="12.6" text-anchor="end" fill="#737373" textLength="30.14" lengthAdjust="spacing">3.4%</text><line x1="83.00" y1="425.30" x2="455.80" y2="425.30" stroke="#e5e5e5" stroke-width="1"/><text x="78.70" y="428.84" font-size="12.6" text-anchor="end" fill="#737373" textLength="29.70" lengthAdjust="spacing">3.2%</text><text x="0.00" y="0.00" font-size="12.6" text-anchor="middle" fill="#737373" textLength="80.53" lengthAdjust="spacing" transform="translate(39.15,265.70) rotate(-90)">Revenue delta</text><circle cx="91.00" cy="115.40" r="6.90" fill="#f59e0b"/></svg></section></main></body></html>
